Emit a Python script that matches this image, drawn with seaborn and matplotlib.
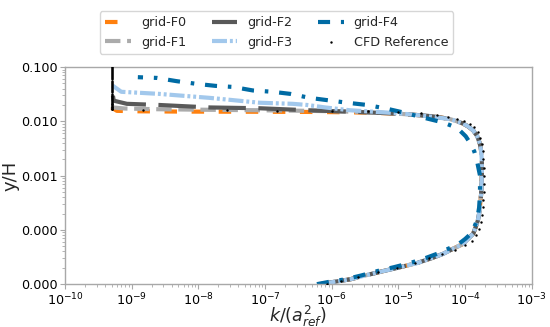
import numpy as np
import pandas as pd
import matplotlib
matplotlib.use("Agg")
import matplotlib.pyplot as plt
from matplotlib.ticker import FormatStrFormatter, LogLocator, NullFormatter
import seaborn as sns

# ---------------- data ----------------
# shared near-wall part of grids F0-F3 (y/H, k)
WALL_Y = [1.0e-5, 1.1e-5, 1.23e-5, 1.45e-5, 1.74e-5, 2.05e-5, 2.45e-5, 3.0e-5,
          3.63e-5, 4.5e-5, 5.5e-5, 6.8e-5, 8.5e-5, 1.1e-4, 1.48e-4, 2.0e-4,
          2.57e-4, 4.7e-4, 1.0e-3, 1.9e-3, 2.8e-3, 3.9e-3, 5.3e-3]
WALL_K = [6.8e-7, 1.07e-6, 1.9e-6, 3.2e-6, 5.9e-6, 1.05e-5, 1.9e-5, 3.1e-5,
          4.7e-5, 6.6e-5, 9.3e-5, 1.1e-4, 1.32e-4, 1.43e-4, 1.55e-4, 1.62e-4,
          1.66e-4, 1.74e-4, 1.78e-4, 1.78e-4, 1.74e-4, 1.66e-4, 1.52e-4]

F0_Y = [6.8e-3, 8.0e-3, 9.1e-3, 1.02e-2, 1.1e-2, 1.17e-2, 1.25e-2, 1.32e-2,
        1.39e-2, 1.44e-2, 1.47e-2, 1.49e-2, 1.5e-2, 1.51e-2, 1.53e-2, 1.56e-2, 1.8e-2]
F0_K = [1.32e-4, 1.12e-4, 9.3e-5, 7.2e-5, 5.9e-5, 4.4e-5, 2.9e-5, 1.7e-5,
        8.5e-6, 4.0e-6, 1.5e-6, 4.0e-7, 6.0e-8, 6.0e-9, 1.2e-9, 6.0e-10, 5.0e-10]

F1_Y = [6.8e-3, 8.0e-3, 9.1e-3, 1.02e-2, 1.1e-2, 1.17e-2, 1.25e-2, 1.32e-2,
        1.4e-2, 1.47e-2, 1.53e-2, 1.57e-2, 1.6e-2, 1.63e-2, 1.67e-2, 1.72e-2, 1.8e-2, 2.1e-2]
F1_K = [1.32e-4, 1.12e-4, 9.3e-5, 7.2e-5, 5.9e-5, 4.4e-5, 2.9e-5, 1.7e-5,
        8.5e-6, 3.5e-6, 1.2e-6, 3.0e-7, 8.0e-8, 1.5e-8, 2.5e-9, 8.0e-10, 5.2e-10, 5.0e-10]

F2_Y = [6.8e-3, 8.0e-3, 9.1e-3, 1.02e-2, 1.1e-2, 1.17e-2, 1.25e-2, 1.32e-2,
        1.41e-2, 1.5e-2, 1.6e-2, 1.74e-2, 1.8e-2, 2.0e-2, 2.1e-2, 2.4e-2, 4.2e-2]
F2_K = [1.32e-4, 1.12e-4, 9.3e-5, 7.2e-5, 5.9e-5, 4.4e-5, 2.9e-5, 1.7e-5,
        7.0e-6, 2.0e-6, 4.3e-7, 8.3e-8, 1.5e-8, 2.6e-9, 8.5e-10, 5.4e-10, 5.0e-10]

F3_Y = [6.8e-3, 8.0e-3, 9.1e-3, 1.02e-2, 1.1e-2, 1.17e-2, 1.28e-2, 1.4e-2,
        1.6e-2, 1.8e-2, 2.0e-2, 2.1e-2, 2.2e-2, 2.7e-2, 3.2e-2, 3.5e-2, 4.7e-2]
F3_K = [1.32e-4, 1.12e-4, 9.3e-5, 7.2e-5, 5.9e-5, 4.0e-5, 2.2e-5, 1.05e-5,
        1.86e-6, 8.0e-7, 4.3e-7, 2.6e-7, 8.3e-8, 1.5e-8, 2.6e-9, 7.0e-10, 5.0e-10]

F4_Y = [1.0e-5, 1.1e-5, 1.23e-5, 1.45e-5, 1.74e-5, 2.05e-5, 2.45e-5, 3.0e-5,
        3.63e-5, 4.5e-5, 5.5e-5, 6.8e-5, 8.5e-5, 1.1e-4, 1.48e-4, 2.57e-4,
        4.7e-4, 1.0e-3, 1.9e-3, 2.8e-3, 3.9e-3, 5.3e-3, 6.8e-3, 8.2e-3, 9.5e-3,
        1.18e-2, 1.45e-2, 1.7e-2, 2.0e-2, 2.2e-2, 2.7e-2, 3.2e-2, 3.5e-2, 3.7e-2,
        4.3e-2, 4.5e-2, 4.9e-2, 5.5e-2, 6.3e-2, 6.5e-2]
F4_K = [6.0e-7, 9.0e-7, 1.6e-6, 2.8e-6, 4.8e-6, 8.5e-6, 1.5e-5, 2.5e-5,
        3.8e-5, 5.6e-5, 8.0e-5, 1.0e-4, 1.22e-4, 1.36e-4, 1.5e-4, 1.62e-4,
        1.67e-4, 1.67e-4, 1.5e-4, 1.37e-4, 1.2e-4, 1.02e-4, 8.3e-5, 6.4e-5, 4.7e-5,
        2.3e-5, 1.2e-5, 6.8e-6, 3.4e-6, 1.7e-6, 4.7e-7, 2.4e-7, 1.3e-7, 6.6e-8,
        3.3e-8, 1.8e-8, 9.4e-9, 4.7e-9, 2.4e-9, 1.24e-9]

REF_Y = [0.13, 0.12, 0.11, 0.104, 0.100, 0.096, 0.092, 0.088, 0.085, 0.081,
         0.078, 0.074, 0.071, 0.068, 0.065, 0.062, 0.059, 0.056, 0.054, 0.051,
         0.049, 0.047, 0.045, 0.043, 0.041, 0.039, 0.037, 0.0355, 0.034, 0.0325,
         0.031, 0.0295, 0.028, 0.027, 0.026, 0.025, 0.024, 0.023, 0.022, 0.021,
         0.0205, 0.0198, 0.019, 0.0185, 0.018, 0.0176, 0.0172, 0.0169, 0.0166,
         0.0162, 0.0160, 0.0158, 0.0156, 0.0153, 0.0148, 0.0140, 0.0130, 0.0122,
         0.0112, 0.0102, 0.0090, 0.0077, 0.0063, 0.0050, 0.0038, 0.0028, 0.0020,
         0.0014, 0.0010, 7.0e-4, 5.0e-4, 3.6e-4, 2.6e-4, 1.9e-4, 1.4e-4, 1.05e-4,
         8.0e-5, 6.3e-5, 5.2e-5, 4.3e-5, 3.6e-5, 3.0e-5, 2.5e-5, 2.0e-5, 1.65e-5,
         1.35e-5, 1.15e-5, 1.0e-5]
REF_K = [5e-10] * 49 + [
         1.5e-9, 2.7e-8, 1.5e-7, 1.0e-6, 3.5e-6, 1.0e-5, 2.2e-5, 3.8e-5, 5.5e-5,
         7.5e-5, 9.5e-5, 1.17e-4, 1.37e-4, 1.55e-4, 1.68e-4, 1.78e-4, 1.84e-4,
         1.88e-4, 1.9e-4, 1.9e-4, 1.9e-4, 1.89e-4, 1.87e-4, 1.84e-4, 1.79e-4,
         1.72e-4, 1.6e-4, 1.47e-4, 1.25e-4, 1.0e-4, 7.0e-5, 4.5e-5, 2.9e-5,
         1.8e-5, 9.5e-6, 5.0e-6, 2.5e-6, 1.4e-6, 8.5e-7]

LABELS = ["grid-F0", "grid-F1", "grid-F2", "grid-F3", "grid-F4"]

series = {
    "grid-F0": (WALL_K + F0_K, WALL_Y + F0_Y),
    "grid-F1": (WALL_K + F1_K, WALL_Y + F1_Y),
    "grid-F2": (WALL_K + F2_K, WALL_Y + F2_Y),
    "grid-F3": (WALL_K + F3_K, WALL_Y + F3_Y),
    "grid-F4": (F4_K, F4_Y),
}

# ---------------- styles ----------------
colors = {"grid-F0": "#FF800E", "grid-F1": "#ABABAB", "grid-F2": "#595959",
          "grid-F3": "#A2C8EC", "grid-F4": "#006BA4"}
styles = {"grid-F0": (0, (3.0, 3.5)),
          "grid-F1": (0, (3.7, 1.6)),
          "grid-F2": (0, (9.0, 3.0)),
          "grid-F3": (0, (3.6, 0.7, 0.7, 0.7, 0.7, 0.7)),
          "grid-F4": (0, (2.9, 2.6, 0.85, 2.6))}

sns.set_style("white")
plt.rcParams["font.family"] = ["DejaVu Sans"]

fig = plt.figure(figsize=(5.5, 3.27), dpi=100)
ax = fig.add_axes([0.118, 0.131, 0.849, 0.664])

for lab in LABELS:
    k, y = series[lab]
    df = pd.DataFrame({"k": k, "y": y})
    sns.lineplot(data=df, x="k", y="y", sort=False, estimator=None, ax=ax,
                 color=colors[lab], linewidth=3, linestyle=styles[lab], label=lab)

ref = pd.DataFrame({"k": REF_K, "y": REF_Y})
sns.scatterplot(data=ref, x="k", y="y", ax=ax, color="k", marker=".", s=12,
                linewidth=0, label="CFD Reference", zorder=5)

ax.set_xscale("log")
ax.set_yscale("log")
ax.set_xlim(1e-10, 1e-3)
ax.set_ylim(1e-5, 1e-1)
ax.yaxis.set_major_locator(LogLocator(base=10, numticks=10))
ax.yaxis.set_major_formatter(FormatStrFormatter("%.3f"))
ax.yaxis.set_minor_locator(LogLocator(base=10, subs=np.arange(2, 10), numticks=20))
ax.yaxis.set_minor_formatter(NullFormatter())
ax.xaxis.set_major_locator(LogLocator(base=10, numticks=10))
ax.xaxis.set_minor_locator(LogLocator(base=10, subs=np.arange(2, 10), numticks=20))
ax.xaxis.set_minor_formatter(NullFormatter())

for sp in ax.spines.values():
    sp.set_color("#a8a8a8")
    sp.set_linewidth(1.0)
ax.tick_params(which="major", direction="out", length=3.5, width=0.8,
               color="#a8a8a8", labelsize=9.2, labelcolor="black", pad=2,
               bottom=True, left=True)
ax.tick_params(which="minor", direction="out", length=2, width=0.6,
               color="#a8a8a8", bottom=True, left=True)

ax.set_xlabel(r"$k/(a_{ref}^2)$", fontsize=12.5, labelpad=-3)
ax.set_ylabel("y/H", fontsize=13, labelpad=1)

handles, labels = ax.get_legend_handles_labels()
ax.get_legend().remove()
fig.legend(handles, labels, loc="upper center", bbox_to_anchor=(0.503, 0.985),
           ncol=3, fontsize=9.2, frameon=True)

fig.savefig("out.png", dpi=100)
